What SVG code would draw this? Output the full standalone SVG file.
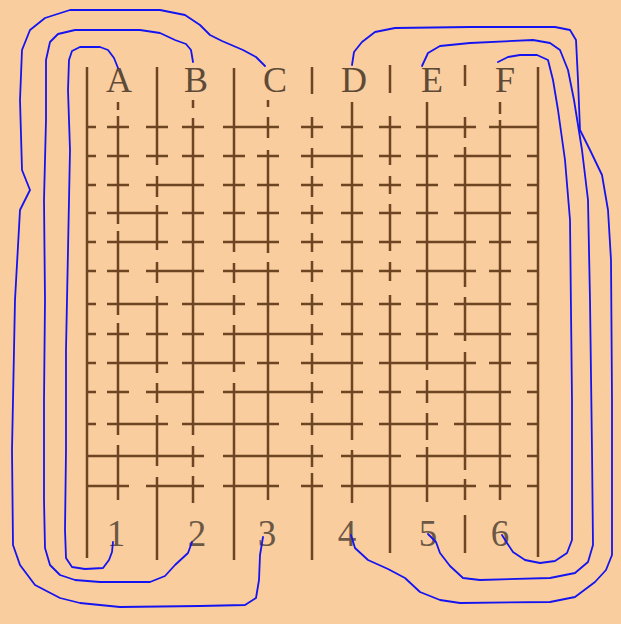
<svg xmlns="http://www.w3.org/2000/svg" width="621" height="624" viewBox="0 0 621 624">
<style>
.bg{fill:#FACD9F}
.g{fill:none;stroke:#6E4522;stroke-width:2.5;stroke-linecap:butt}
.lt{font-family:"Liberation Serif","Times New Roman",serif;font-size:36px;fill:#5E4A36;text-anchor:middle}
.nm{font-family:"Liberation Serif","Times New Roman",serif;font-size:37px;fill:#6A5844;text-anchor:middle}
.c{fill:none;stroke:#1414F0;stroke-width:1.8;stroke-linejoin:round;stroke-linecap:round}
</style>
<rect class="bg" x="0" y="0" width="621" height="624"/>
<g id="grid" class="g">
<path d="M87 127H96M107 127H129M146 127H168M182 127H204M223 127H279M301 127H323M341 127H363M379 127H401M416 127H476M489 127H538
M87 156H96M107 156H129M146 156H168M182 156H204M223 156H245M257 156H279M301 156H363M379 156H401M416 156H438M454 156H511M527 156H538
M87 185H96M107 185H129M146 185H204M223 185H245M257 185H279M301 185H323M341 185H363M379 185H401M416 185H438M454 185H511M527 185H538
M87 213H96M107 213H168M182 213H204M223 213H245M257 213H279M301 213H323M341 213H363M379 213H401M416 213H438M454 213H511M527 213H538
M87 242H96M107 242H168M182 242H204M223 242H279M301 242H323M341 242H363M379 242H401M416 242H476M489 242H511M527 242H538
M87 271H96M107 271H129M146 271H204M223 271H279M301 271H323M341 271H363M379 271H401M416 271H476M489 271H511M527 271H538
M87 304H96M107 304H168M182 304H245M257 304H279M301 304H323M341 304H363M379 304H401M416 304H438M454 304H511M527 304H538
M87 334H96M107 334H129M146 334H168M182 334H204M223 334H323M341 334H363M379 334H401M416 334H438M454 334H511M527 334H538
M87 363H96M107 363H168M182 363H245M257 363H279M301 363H363M379 363H476M489 363H511M527 363H538
M87 392H96M107 392H129M146 392H204M223 392H323M341 392H363M379 392H401M416 392H511M527 392H538
M87 424H96M107 424H168M182 424H279M301 424H363M379 424H438M454 424H511M527 424H538
M87 456H204M223 456H323M341 456H401M416 456H511M527 456H538
M87 486H129M146 486H204M223 486H279M301 486H323M341 486H476M489 486H511M527 486H538"/>
<path d="M87 67V558M538 67V557
M118 102V110M118 116V224M118 231V315M118 323V435M118 445V500
M157 67V165M157 176V197M157 205V250M157 262V283M157 296V373M157 383V403M157 415V466M157 477V560
M193 100V108M193 118V435M193 446V467M193 476V503
M234 68V252M234 263V283M234 295V315M234 325V372M234 383V560
M268 100V107M268 117V138M268 150V253M268 262V500
M312 67V94M312 117V138M312 148V168M312 176V197M312 205V224M312 233V252M312 261V282M312 294V315M312 324V345M312 353V374M312 382V403M312 413V435M312 445V467M312 473V560
M352 102V440M352 450V503
M390 65V93M390 116V165M390 176V194M390 204V251M390 262V281M390 295V553
M427 102V370M427 380V403M427 413V440M427 447V502
M465 65V86M465 117V138M465 147V287M465 297V341M465 352V470M465 479V500M465 515V553
M500 102V114M500 120V500"/>
</g>
<g id="node-A"><text class="lt" x="119" y="92">A</text></g>
<g id="node-B"><text class="lt" x="196" y="92">B</text></g>
<g id="node-C"><text class="lt" x="275" y="92">C</text></g>
<g id="node-D"><text class="lt" x="354" y="92">D</text></g>
<g id="node-E"><text class="lt" x="432" y="92">E</text></g>
<g id="node-F"><text class="lt" x="505" y="92">F</text></g>
<g id="node-1"><text class="nm" x="116" y="546">1</text></g>
<g id="node-2"><text class="nm" x="197" y="546">2</text></g>
<g id="node-3"><text class="nm" x="267" y="546">3</text></g>
<g id="node-4"><text class="nm" x="347" y="546">4</text></g>
<g id="node-5"><text class="nm" x="428" y="546">5</text></g>
<g id="node-6"><text class="nm" x="500" y="546">6</text></g>
<g id="connectors" class="c">
<path d="M118 68L114 58L108 50L100 47L80 47L72 51L69 60L68 90L70 150L68 250L66 350L66 450L65 530L66 558L72 567L85 569L103 568L109 560L112 552L113 542"/>
<path d="M193 62L191 50L186 44L175 40L160 33L140 30L75 30L58 34L50 42L46 60L46 120L44 200L45 300L44 400L44 500L45 548L50 565L60 575L75 580L100 582L150 582L165 576L175 565L188 553L192 542"/>
<path d="M265 66L256 57L243 50L222 41L210 35L200 25L185 15L160 10L70 10L45 18L30 30L22 50L20 100L22 170L30 190L20 210L15 300L12 450L13 545L20 565L35 585L60 598L80 603L120 607L200 606L245 605L256 598L259 580L260 555L263 537"/>
<path d="M352 65L354 52L362 42L375 32L395 28L470 27L555 27L570 30L576 40L578 80L580 130L590 150L602 175L608 210L611 260L612 400L612 555L606 570L595 582L575 597L550 602L460 603L440 600L420 592L405 578L388 569L368 560L355 548L351 535"/>
<path d="M422 66L428 53L440 46L470 43L533 40L550 43L560 50L568 70L574 100L582 150L588 200L590 300L592 450L593 545L588 562L575 573L550 578L480 580L463 578L450 566L440 553L436 542L428 534"/>
<path d="M498 62L508 57L520 55L537 55L548 60L553 80L558 110L565 160L570 220L572 400L572 540L567 553L555 561L540 563L525 560L513 552L507 543L502 535"/>
</g>
</svg>
